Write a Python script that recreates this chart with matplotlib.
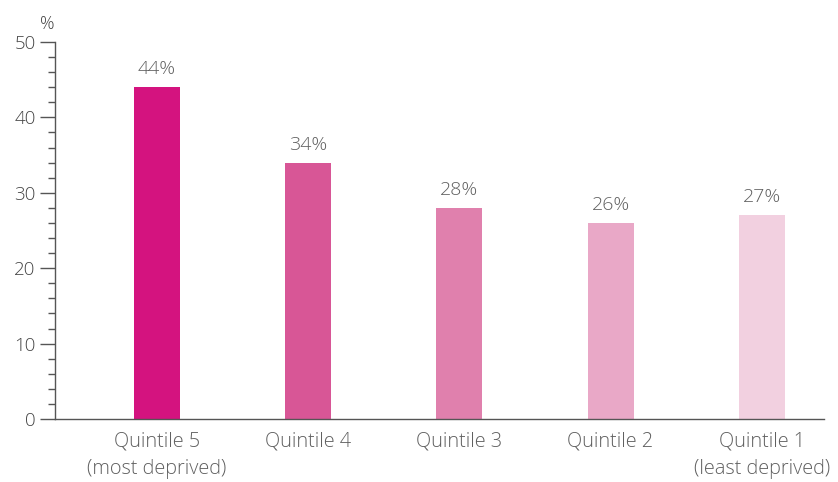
import matplotlib.pyplot as plt
from matplotlib.ticker import MultipleLocator

categories = ['Quintile 5\n(most deprived)', 'Quintile 4', 'Quintile 3',
              'Quintile 2', 'Quintile 1\n(least deprived)']
values = [44, 34, 28, 26, 27]
colors = ['#d4137f', '#d85696', '#e080ad', '#e9a8c7', '#f2d0e0']

plt.rcParams['font.family'] = ['Open Sans', 'DejaVu Sans']
plt.rcParams['font.weight'] = 'light'
grey = '#606060'

fig = plt.figure(figsize=(8.38, 4.82), dpi=100)
ax = fig.add_axes([0.0656, 0.1307, 0.9174, 0.7822])

x = range(len(values))
ax.bar(x, values, width=0.304, color=colors, zorder=2)

for xi, v in zip(x, values):
    ax.text(xi, v + 1.2, f'{v}%', ha='center', va='bottom', fontsize=14, color=grey)

ax.set_xlim(-0.674, 4.41)
ax.set_ylim(0, 50)
ax.yaxis.set_major_locator(MultipleLocator(10))
ax.yaxis.set_minor_locator(MultipleLocator(2))
ax.tick_params(axis='y', which='major', length=11, width=1, color='#555555',
               labelsize=13.5, labelcolor='#454545', pad=3)
ax.tick_params(axis='y', which='minor', length=5, width=1, color='#555555')
ax.tick_params(axis='x', length=0, labelsize=14.3, labelcolor=grey, pad=9)
ax.set_xticks(list(x))
ax.set_xticklabels(categories, linespacing=1.5)

for side in ['top', 'right']:
    ax.spines[side].set_visible(False)
for side in ['left', 'bottom']:
    ax.spines[side].set_color('#555555')
    ax.spines[side].set_linewidth(1)

ax.text(-0.01, 1.025, '%', transform=ax.transAxes, ha='center', va='bottom',
        fontsize=13, color='#454545')

fig.savefig('out.png', dpi=100)
